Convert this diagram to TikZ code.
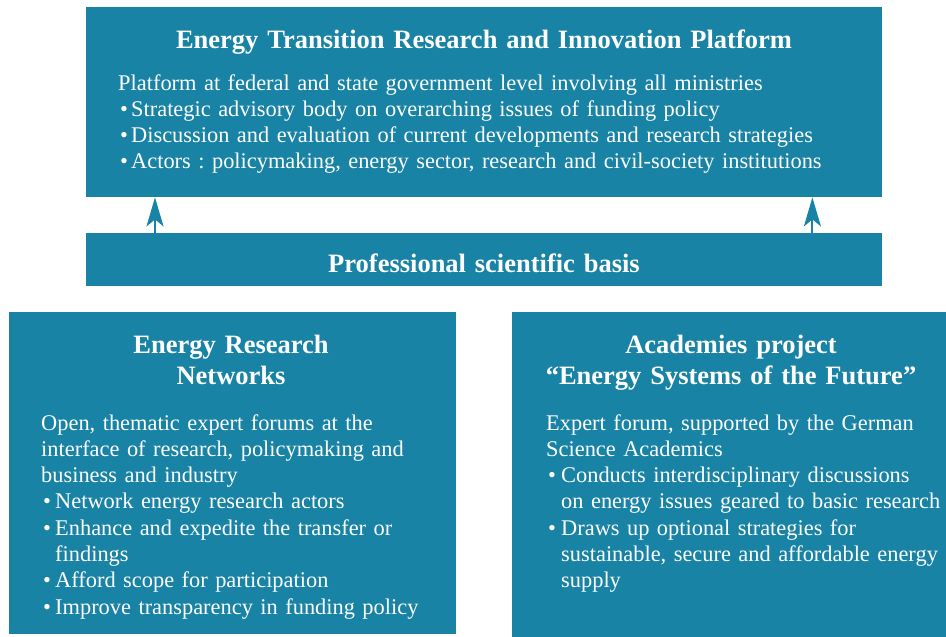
\documentclass[tikz,border=0pt]{standalone}
\usepackage{fontspec}
\setmainfont{Liberation Serif}
\usetikzlibrary{arrows.meta}
\definecolor{teal1}{HTML}{1883A4}
\newcommand{\bul}[1]{\makebox[#1][l]{\hspace{2pt}\textbullet}}
\frenchspacing
\tikzset{
  panel/.style={fill=teal1, draw=none, inner sep=0pt, anchor=north west},
  bodytext/.style={text=white, inner sep=0pt, anchor=base west, align=left, text width=#1,
    font=\fontsize{22.4}{26.3}\selectfont\frenchspacing},
  titletext/.style={text=white, inner sep=0pt, anchor=base, align=center, text width=#1,
    font=\fontsize{26.5}{31}\selectfont\bfseries},
  upArrow/.style={draw=teal1, line width=2pt, -{Stealth[length=29pt, width=17pt, inset=7pt]}}
}
\begin{document}
\begin{tikzpicture}[x=1pt, y=1pt]
\useasboundingbox (0,0) rectangle (946,-637);
% panels
\node[panel, minimum width=796pt, minimum height=190pt] (topbox) at (86,-7) {};
\node[panel, minimum width=796pt, minimum height=53pt] (bar) at (86,-233) {};
\node[panel, minimum width=447pt, minimum height=322pt] (leftbox) at (9,-312) {};
\node[panel, minimum width=434pt, minimum height=325pt] (rightbox) at (512,-312) {};
% arrows
\draw[upArrow] ([xshift=69pt]bar.north west) -- ([xshift=69pt]topbox.south west);
\draw[upArrow] ([xshift=-70pt]bar.north east) -- ([xshift=-70pt]topbox.south east);
% top box text
\node[titletext=800pt] (toptitle) at (484,-48) {Energy Transition Research and Innovation Platform};
\node[bodytext=760pt] (topbody) at (118,-90) {Platform at federal and state government level involving all ministries\\
\bul{13pt}Strategic advisory body on overarching issues of funding policy\\
\bul{13pt}Discussion and evaluation of current developments and research strategies\\
\bul{13pt}Actors : policymaking, energy sector, research and civil-society institutions};
% bar text
\node[titletext=600pt] (bartext) at (484,-272) {Professional scientific basis};
% left box text
\node[titletext=440pt] (lefttitle) at (231,-353) {Energy Research\\Networks};
\node[bodytext=410pt] (leftbody) at (41,-430) {Open, thematic expert forums at the\\
interface of research, policymaking and\\
business and industry\\
\bul{14pt}Network energy research actors\\
\bul{14pt}Enhance and expedite the transfer or\\
\hspace*{14pt}findings\\
\bul{14pt}Afford scope for participation\\
\bul{14pt}Improve transparency in funding policy};
% right box text
\node[titletext=430pt] (righttitle) at (731,-353) {Academies project\\“Energy Systems of the Future”};
\node[bodytext=400pt] (rightbody) at (546,-430) {Expert forum, supported by the German\\
Science Academics\\
\bul{15pt}Conducts interdisciplinary discussions\\
\hspace*{15pt}on energy issues geared to basic research\\
\bul{15pt}Draws up optional strategies for\\
\hspace*{15pt}sustainable, secure and affordable energy\\
\hspace*{15pt}supply};
\end{tikzpicture}
\end{document}
